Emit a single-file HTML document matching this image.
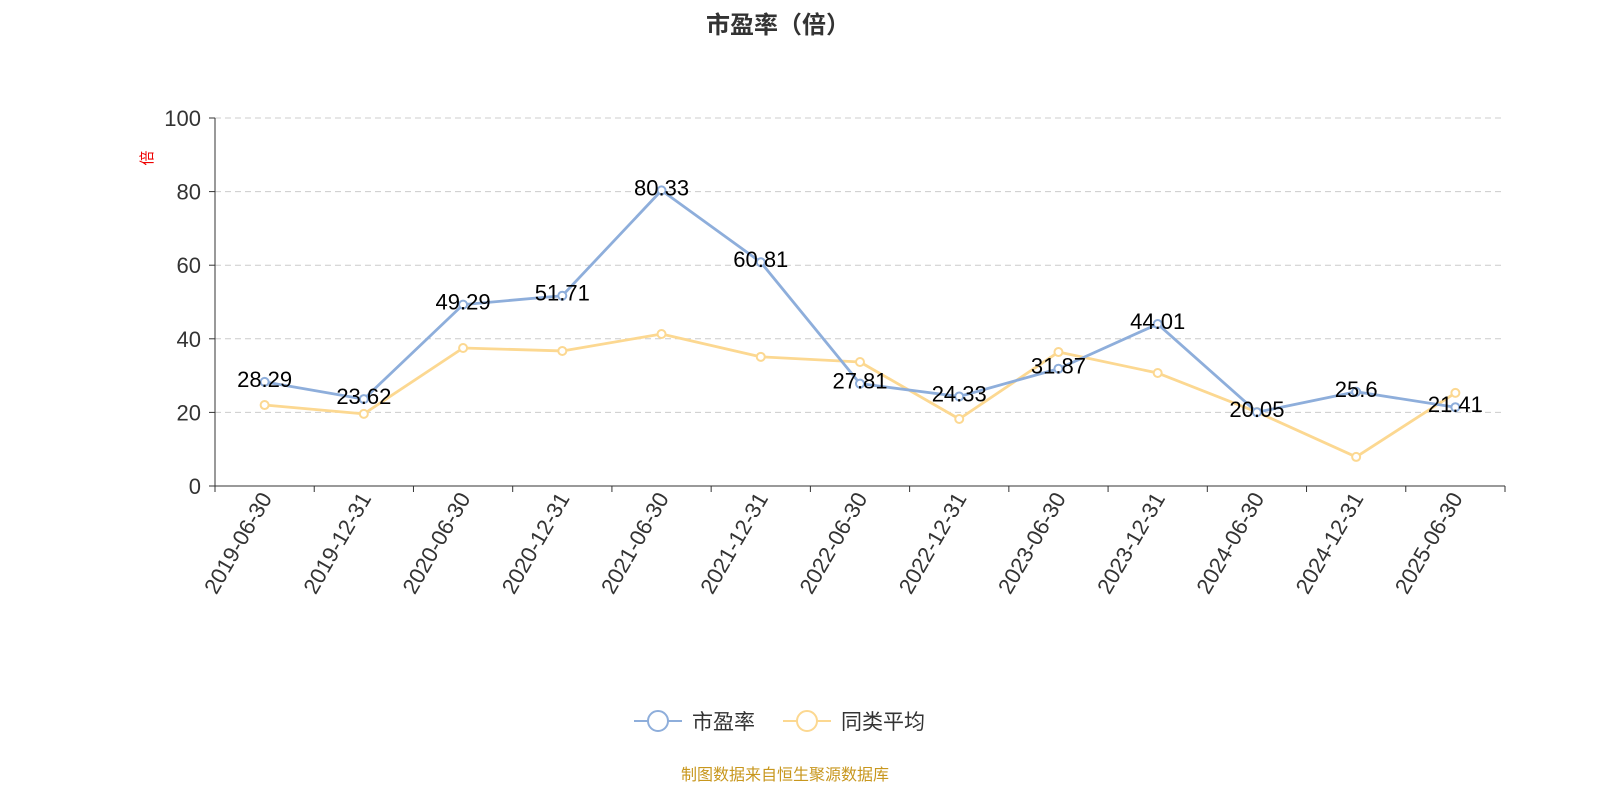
<!DOCTYPE html>
<html><head><meta charset="utf-8"><style>
body{margin:0;background:#fff;font-family:"Liberation Sans","Noto Sans CJK SC",sans-serif}
</style></head><body>
<svg width="1600" height="800" xmlns="http://www.w3.org/2000/svg" style="font-family:'Liberation Sans','Noto Sans CJK SC',sans-serif">
<text x="778" y="33" text-anchor="middle" font-size="24" font-weight="bold" fill="#333">市盈率（倍）</text>
<text transform="translate(152,158) rotate(-90)" text-anchor="middle" font-size="15" fill="#e00">倍</text>
<g id="grid"></g><g id="axes"></g><g id="series"></g>
<g>
<g><line x1="634" y1="721" x2="682" y2="721" stroke="#8eaedb" stroke-width="2"/><circle cx="658" cy="721" r="10" fill="#fff" stroke="#8eaedb" stroke-width="2"/><text x="692" y="729" font-size="21" fill="#333">市盈率</text></g>
<g><line x1="783" y1="721" x2="831" y2="721" stroke="#fcd891" stroke-width="2"/><circle cx="807" cy="721" r="10" fill="#fff" stroke="#fcd891" stroke-width="2"/><text x="841" y="729" font-size="21" fill="#333">同类平均</text></g>
</g>
<text x="785" y="780" text-anchor="middle" font-size="16" fill="#c8971e">制图数据来自恒生聚源数据库</text>
</svg>
<script>
const categories=["2019-06-30","2019-12-31","2020-06-30","2020-12-31","2021-06-30","2021-12-31","2022-06-30","2022-12-31","2023-06-30","2023-12-31","2024-06-30","2024-12-31","2025-06-30"];
const peValues=[28.29,23.62,49.29,51.71,80.33,60.81,27.81,24.33,31.87,44.01,20.05,25.6,21.41];
const peerValues=[22.0,19.6,37.5,36.7,41.3,35.1,33.7,18.2,36.4,30.7,20.1,7.9,25.3];
const yTicks=[0,20,40,60,80,100];
const NS="http://www.w3.org/2000/svg";
const x0=215,x1=1505,y0=486,y1=118,yMax=100;
const band=(x1-x0)/categories.length;
const xs=i=>x0+band*(i+0.5);
const ys=v=>y0-(v/yMax)*(y0-y1);
function mk(t,a,p){const e=document.createElementNS(NS,t);for(const k in a)e.setAttribute(k,a[k]);p.appendChild(e);return e;}
const grid=document.getElementById('grid'),axes=document.getElementById('axes'),ser=document.getElementById('series');
yTicks.forEach(v=>{
 if(v>0){const g=mk('line',{x1:x0,x2:x1,y1:ys(v),y2:ys(v),stroke:'#ccc','stroke-dasharray':'6,4'},grid);
 }
 const t=mk('line',{x1:x0-6,x2:x0,y1:ys(v),y2:ys(v),stroke:'#333'},axes);
 const l=mk('text',{x:x0-14,y:ys(v)+8,'text-anchor':'end','font-size':22,fill:'#333'},axes);l.textContent=v;
 
});
const ya=mk('line',{x1:x0,x2:x0,y1:y1,y2:y0,stroke:'#333'},axes);

const xa=mk('line',{x1:x0,x2:x1,y1:y0,y2:y0,stroke:'#333'},axes);

for(let i=0;i<=categories.length;i++)mk('line',{x1:x0+band*i,x2:x0+band*i,y1:y0,y2:y0+6,stroke:'#333'},axes);
categories.forEach((c,i)=>{
 const t=mk('text',{transform:`translate(${xs(i)+8},${y0+12}) rotate(-60)`,'text-anchor':'end','font-size':22,fill:'#333'},axes);
 t.textContent=c;
});
function series(vals,color,name,labels){
 const p=mk('polyline',{points:vals.map((v,i)=>xs(i)+','+ys(v)).join(' '),fill:'none',stroke:color,'stroke-width':2.8,'stroke-linejoin':'round'},ser);
 
 vals.forEach((v,i)=>{
  const c=mk('circle',{cx:xs(i),cy:ys(v),r:4,fill:'#fff',stroke:color,'stroke-width':2},ser);
  
 });
 if(labels)vals.forEach((v,i)=>{
  const t=mk('text',{x:xs(i),y:ys(v)+5,'text-anchor':'middle','font-size':22,fill:'#000'},ser);
  t.textContent=v;
 });
}
series(peerValues,'#fcd891','peer-average',false);
series(peValues,'#8eaedb','pe-ratio',true);
</script>
</body></html>
